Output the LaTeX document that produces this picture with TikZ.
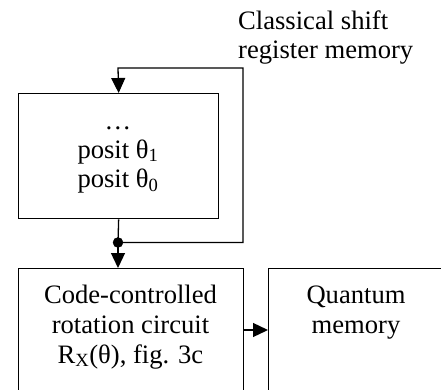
\documentclass[tikz,border=0pt]{standalone}
\usepackage{fontspec}
\setmainfont{Liberation Serif}
\usetikzlibrary{arrows.meta}

\tikzset{
  wire/.style={line width=1.3pt},
  arr/.style={wire,-{Triangle[width=14pt,length=15pt]}},
  txt/.style={align=center,inner sep=0pt,font=\fontsize{26.6}{29}\selectfont},
  blk/.style={draw,wire,inner sep=0pt,anchor=north west}
}

\begin{document}
\begin{tikzpicture}[x=1pt,y=-1pt]
        \useasboundingbox (0,0) rectangle (441,390);
        \clip (0,0) rectangle (441,390);
        % blocks
        \node[blk,minimum width=200pt,minimum height=125pt] (reg) at (18,93) {};
        \node[blk,minimum width=225pt,minimum height=150pt] (rot) at (18,268) {};
        \node[blk,minimum width=190pt,minimum height=150pt] (qmem) at (268,268) {};
        % texts
        \node[txt,anchor=north] (regtxt) at (118,108.7) {\strut…\\posit θ\textsubscript{1}\\posit θ\textsubscript{0}};
        \node[txt,anchor=north,font=\fontsize{26.6}{30}\selectfont] (rottxt) at (130.5,282) {\strut Code-controlled\\rotation circuit\\R\textsubscript{X}(θ), fig. 3c};
        \node[txt,anchor=north,font=\fontsize{26.6}{30}\selectfont] (qtxt) at (356,282) {\strut Quantum\\memory};
        \node[txt,align=left,anchor=north west] (lbl) at (238,9) {\strut Classical shift\\register memory};
        % shift register loop
        \coordinate (tap) at (118,242.5);
        \coordinate (rtop) at (118,68);
        \filldraw (tap) circle (5pt);
        \draw[wire] (reg.south) -- (tap);
        \draw[arr] (tap) -- (rot.north -| tap);
        \draw[arr] (tap) -- (243,242.5) -- (243,68) -- (rtop) -- (reg.north);
        \draw[arr] (rot.east |- 0,330) -- (qmem.west |- 0,330);
      \end{tikzpicture}
\end{document}
